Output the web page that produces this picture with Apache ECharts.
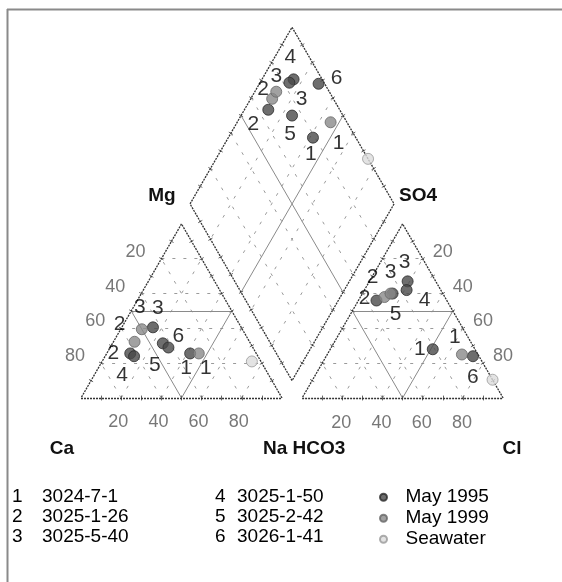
<!DOCTYPE html>
<html>
<head>
<meta charset="utf-8">
<script src="https://cdn.jsdelivr.net/npm/echarts@6/dist/echarts.min.js"></script>
<style>
html, body { margin: 0; padding: 0; background: #fff; }
#piper { width: 562px; height: 582px; }
</style>
</head>
<body>
<div id="piper"></div>
<script>
(function() {

// sample wells, numbered 1..6 on the plot
var sampleNames = ['3024-7-1', '3025-1-26', '3025-5-40', '3025-1-50', '3025-2-42', '3026-1-41'];
var groupNames = ['May 1995', 'May 1999', 'Seawater'];

// one entry per analysis: sample number (0 = no label) and campaign
var pointSample = [1, 2, 3, 4, 5, 6, 1, 2, 3, 0];
var pointGroup = [0, 0, 0, 0, 0, 0, 1, 1, 1, 2];

// cations, % of meq/l (Ca is the rest)
var mgPct = [25.6, 25.6, 40.6, 24, 31.4, 29, 25.6, 32.3, 39.5, 21];
var naPct = [41.5, 11.7, 15.5, 14.4, 25, 29, 45.8, 10.5, 10.5, 74.5];
// anions, % of meq/l (HCO3 is the rest)
var so4Pct = [28, 56, 67, 62, 60, 24, 25, 58, 60, 10.5];
var clPct = [51, 9, 19, 21, 15, 73, 67, 12, 14, 89.5];

var tickValues = [20, 40, 60, 80];

// label nudges (px) for the numbers, same order as the analyses
var nudgeCation = [[-4, 15], [-17, 0], [5, -19], [-12, 19], [-8, 22], [10, -11], [7, 15], [-15, -18], [-2, -22], null];
var nudgeDiamond = [[-2, 17], [-15, 14], [8, 20], [1, -26], [-2, 19], [18, -6], [8, 21], [-9, -10], [0, -16], null];
var nudgeAnion = [[-13, 0], [-12, -2], [-3, -19], [18, 10], [3, 21], [0, 21], [-7, -17], [-12, -20], [0, -21], null];

// geometry of the Piper plot in data units
var H = Math.sqrt(3) / 2;
var SIDE = 100, GAP = 10, DSIDE = 101.5;
var PX = 2.01;            // pixels per unit
var ORIGIN = [81, 398];   // pixel of the Ca corner

function cationXY(na, mg) { return [na + mg / 2, mg * H]; }
function anionXY(cl, so4) { return [SIDE + GAP + cl + so4 / 2, so4 * H]; }
function diamondXY(na, hco3) {
    var p = (100 - na) / 100, q = (100 - hco3) / 100;
    var bx = SIDE + GAP / 2, by = GAP * H;
    return [bx + DSIDE * (q - p) / 2, by + DSIDE * H * (p + q)];
}

// line work
var edges = [], dividers = [], grid = [], ticks = [];
function seg(list, a, b) { list.push({ coords: [a, b] }); }
function addTicks(a, b) {
    var dx = b[0] - a[0], dy = b[1] - a[1], len = Math.sqrt(dx * dx + dy * dy);
    var nx = -dy / len * 1.2, ny = dx / len * 1.2;
    for (var i = 1; i < 10; i++) {
        var px = a[0] + dx * i / 10, py = a[1] + dy * i / 10;
        seg(ticks, [px - nx, py - ny], [px + nx, py + ny]);
    }
}
function triangle(f) {
    var c = [f(0, 0), f(100, 0), f(0, 100)];
    seg(edges, c[0], c[1]); seg(edges, c[1], c[2]); seg(edges, c[2], c[0]);
    addTicks(c[0], c[1]); addTicks(c[1], c[2]); addTicks(c[2], c[0]);
    tickValues.forEach(function(v) {
        seg(grid, f(0, v), f(100 - v, v));
        seg(grid, f(v, 0), f(v, 100 - v));
        seg(grid, f(100 - v, 0), f(0, 100 - v));
    });
    seg(dividers, f(0, 50), f(50, 50));
    seg(dividers, f(50, 0), f(50, 50));
    seg(dividers, f(50, 0), f(0, 50));
}
triangle(cationXY);
triangle(anionXY);
(function() {
    var c = [diamondXY(100, 100), diamondXY(0, 100), diamondXY(0, 0), diamondXY(100, 0)];
    for (var i = 0; i < 4; i++) {
        seg(edges, c[i], c[(i + 1) % 4]);
        addTicks(c[i], c[(i + 1) % 4]);
    }
    tickValues.forEach(function(v) {
        seg(grid, diamondXY(v, 0), diamondXY(v, 100));
        seg(grid, diamondXY(0, v), diamondXY(100, v));
    });
    seg(dividers, diamondXY(50, 0), diamondXY(50, 100));
    seg(dividers, diamondXY(0, 50), diamondXY(100, 50));
})();

// points of every analysis in the three fields
var pointSeries = groupNames.map(function(g) { return []; });
var numberLabels = [];
pointSample.forEach(function(s, i) {
    var hco3 = 100 - so4Pct[i] - clPct[i];
    var places = [
        [cationXY(naPct[i], mgPct[i]), nudgeCation[i]],
        [diamondXY(naPct[i], hco3), nudgeDiamond[i]],
        [anionXY(clPct[i], so4Pct[i]), nudgeAnion[i]]
    ];
    places.forEach(function(p) {
        pointSeries[pointGroup[i]].push({ name: String(s), value: p[0] });
        if (s > 0) {
            numberLabels.push({ name: String(s), value: p[0], label: { offset: p[1] } });
        }
    });
});

// scale numbers
var tickLabels = [];
tickValues.forEach(function(v) {
    tickLabels.push({ name: String(v), value: cationXY(v, 0), label: { offset: [-3, 24] } });
    tickLabels.push({ name: String(v), value: cationXY(0, 100 - v), label: { offset: [-26, -7] } });
    tickLabels.push({ name: String(v), value: anionXY(v, 0), label: { offset: [-1, 25] } });
    tickLabels.push({ name: String(v), value: anionXY(v, 100 - v), label: { offset: [20, -7] } });
});

var groupStyles = [
    { color: '#4a4a4a', borderColor: '#2a2a2a', borderWidth: 1 },
    { color: '#8a8a8a', borderColor: '#666', borderWidth: 1 },
    { color: '#dcdcdc', borderColor: '#999', borderWidth: 1 }
];

var font = 'Liberation Sans, Arial, sans-serif';

var myChart = echarts.init(document.getElementById('piper'));

var graphics = [
    { type: 'line', shape: { x1: 7, y1: 9.5, x2: 562, y2: 9.5 }, style: { stroke: '#8a8a8a', lineWidth: 2 } },
    { type: 'line', shape: { x1: 7.5, y1: 9, x2: 7.5, y2: 582 }, style: { stroke: '#8a8a8a', lineWidth: 2 } }
];
var axisTitles = [['Mg', 162, 196, 'center'], ['SO4', 418, 196, 'center'], ['Ca', 62, 449, 'center'],
    ['Na HCO3', 263, 449, 'left'], ['Cl', 512, 449, 'center']];
axisTitles.forEach(function(t) {
    graphics.push({
        type: 'text', x: t[1], y: t[2],
        style: { text: t[0], font: 'bold 19px ' + font, fill: '#111', align: t[3], verticalAlign: 'middle' }
    });
});
sampleNames.forEach(function(n, i) {
    var col = Math.floor(i / 3), row = i % 3;
    var y = [497, 517, 537][row];
    graphics.push({
        type: 'text', x: [12, 215][col], y: y,
        style: { text: String(i + 1), font: '19px ' + font, fill: '#000', verticalAlign: 'middle' }
    });
    graphics.push({
        type: 'text', x: [42, 237][col], y: y,
        style: { text: n, font: '19px ' + font, fill: '#000', verticalAlign: 'middle' }
    });
});

var series = [
    { type: 'lines', coordinateSystem: 'cartesian2d', silent: true, z: 1, data: grid,
      lineStyle: { color: '#9a9a9a', width: 1, type: [3, 8], opacity: 1 } },
    { type: 'lines', coordinateSystem: 'cartesian2d', silent: true, z: 1, data: dividers,
      lineStyle: { color: '#8a8a8a', width: 1, opacity: 1 } },
    { type: 'lines', coordinateSystem: 'cartesian2d', silent: true, z: 2, data: ticks,
      lineStyle: { color: '#666', width: 1, opacity: 1 } },
    { type: 'lines', coordinateSystem: 'cartesian2d', silent: true, z: 2, data: edges,
      lineStyle: { color: '#333', width: 1.3, type: [2, 1], opacity: 1 } }
];
groupNames.forEach(function(g, gi) {
    series.push({
        name: g, type: 'scatter', z: 3, symbol: 'circle', symbolSize: 11,
        itemStyle: groupStyles[gi], data: pointSeries[gi]
    });
});
series.push({
    type: 'scatter', z: 4, symbolSize: 0, silent: true, data: numberLabels,
    label: { show: true, position: 'inside', formatter: '{b}', color: '#000', fontSize: 21, fontFamily: font }
});
series.push({
    type: 'scatter', z: 4, symbolSize: 0, silent: true, data: tickLabels,
    label: { show: true, position: 'inside', formatter: '{b}', color: '#555', fontSize: 18, fontFamily: font }
});

var option = {
    animation: false,
    grid: { left: 0, right: 0, top: 0, bottom: 0 },
    xAxis: { type: 'value', min: -ORIGIN[0] / PX, max: (562 - ORIGIN[0]) / PX, show: false },
    yAxis: { type: 'value', min: -(582 - ORIGIN[1]) / PX, max: ORIGIN[1] / PX, show: false },
    legend: {
        data: groupNames, orient: 'vertical', left: 379, top: 487, padding: 0,
        itemWidth: 34, itemHeight: 7, itemGap: 0.5, selectedMode: false,
        textStyle: { fontSize: 19, lineHeight: 20.5, color: '#000', fontFamily: font }
    },
    graphic: graphics,
    series: series
};

myChart.setOption(option);
window.onresize = function() {
    myChart.resize();
};
})();
</script>
</body>
</html>
